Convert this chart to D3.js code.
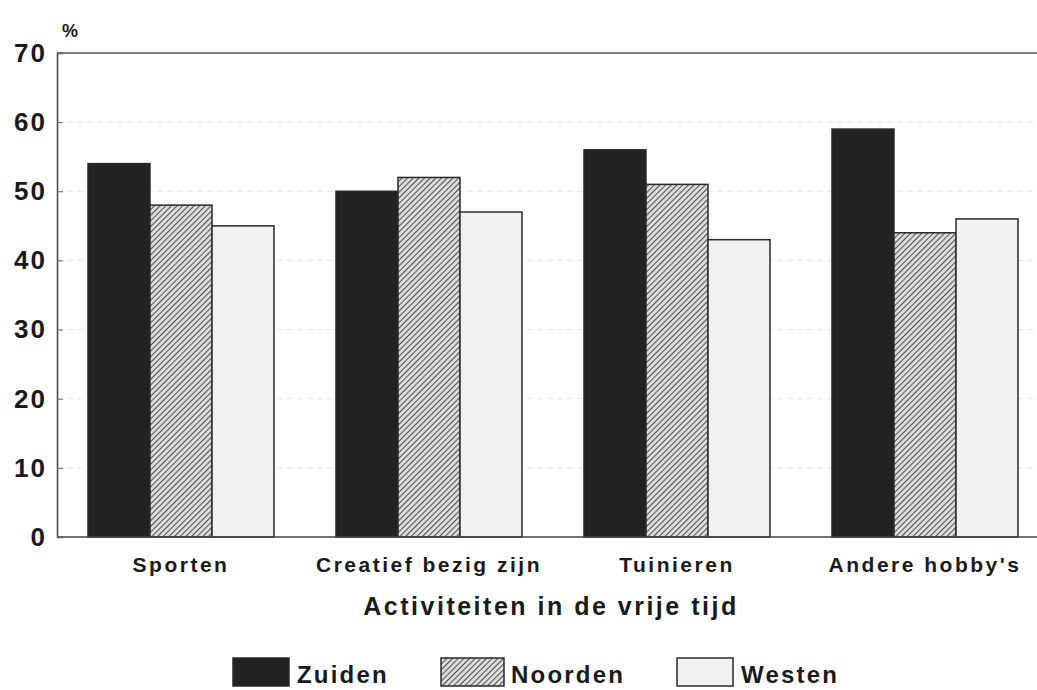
<!DOCTYPE html>
<html lang="nl">
<head>
<meta charset="utf-8">
<title>Activiteiten in de vrije tijd</title>
<script src="https://d3js.org/d3.v7.min.js"></script>
<style>
  body { margin: 0; background: #fff; }
  text { font-family: "Liberation Sans", Arial, sans-serif; font-weight: bold; fill: #1a1a1a; }
</style>
</head>
<body>
<script>
// data
var categories = ["Sporten", "Creatief bezig zijn", "Tuinieren", "Andere hobby's"];
var regions = ["Zuiden", "Noorden", "Westen"];
var zuiden  = [54, 50, 56, 59];
var noorden = [48, 52, 51, 44];
var westen  = [45, 47, 43, 46];
var yTicks = [0, 10, 20, 30, 40, 50, 60, 70];

var values = { "Zuiden": zuiden, "Noorden": noorden, "Westen": westen };

var width = 1037, height = 690;
var plotLeft = 57, plotTop = 53, plotBottom = 537, plotRight = 1049;

var svg = d3.select("body").append("svg")
    .attr("width", width)
    .attr("height", height);

var defs = svg.append("defs");
var hatch = defs.append("pattern")
    .attr("id", "hatch")
    .attr("patternUnits", "userSpaceOnUse")
    .attr("width", 4).attr("height", 4)
    .attr("patternTransform", "rotate(45)");
hatch.append("rect").attr("width", 4).attr("height", 4).attr("fill", "#dcdcdc");
hatch.append("line")
    .attr("x1", 0).attr("y1", 0).attr("x2", 0).attr("y2", 4)
    .attr("stroke", "#333").attr("stroke-width", 1.7);

var fills = { "Zuiden": "#232323", "Noorden": "url(#hatch)", "Westen": "#f1f1f1" };

var x = d3.scaleBand()
    .domain(categories)
    .range([plotLeft, plotRight])
    .paddingInner(0.25)
    .paddingOuter(0.125);

var x1 = d3.scaleBand()
    .domain(regions)
    .range([0, x.bandwidth()]);

var y = d3.scaleLinear()
    .domain([0, 70])
    .range([plotBottom, plotTop]);

// faint gridlines
svg.append("g")
    .selectAll("line")
    .data(yTicks.filter(function(d) { return d > 0 && d < 70; }))
    .enter().append("line")
    .attr("x1", plotLeft).attr("x2", width)
    .attr("y1", function(d) { return y(d); })
    .attr("y2", function(d) { return y(d); })
    .attr("stroke", "#e6e6e6")
    .attr("stroke-dasharray", "6,4");

// bars
var group = svg.append("g")
    .selectAll("g")
    .data(categories)
    .enter().append("g")
    .attr("transform", function(d) { return "translate(" + x(d) + ",0)"; });

group.selectAll("rect")
    .data(function(c, i) {
        return regions.map(function(r) { return { region: r, value: values[r][i] }; });
    })
    .enter().append("rect")
    .attr("x", function(d) { return x1(d.region); })
    .attr("y", function(d) { return y(d.value); })
    .attr("width", x1.bandwidth())
    .attr("height", function(d) { return plotBottom - y(d.value); })
    .attr("fill", function(d) { return fills[d.region]; })
    .attr("stroke", "#2a2a2a")
    .attr("stroke-width", 1.5);

// frame: top and bottom lines
svg.append("line")
    .attr("x1", plotLeft).attr("x2", width).attr("y1", plotTop).attr("y2", plotTop)
    .attr("stroke", "#555").attr("stroke-width", 1.5);
svg.append("line")
    .attr("x1", plotLeft).attr("x2", width).attr("y1", plotBottom).attr("y2", plotBottom)
    .attr("stroke", "#444").attr("stroke-width", 1.5);

var yAxis = svg.append("g")
    .attr("transform", "translate(" + plotLeft + ",0)")
    .call(d3.axisLeft(y).tickValues(yTicks).tickSize(-6).tickPadding(14));
yAxis.select(".domain").attr("stroke", "#444").attr("stroke-width", 1.5);
yAxis.selectAll(".tick line").attr("stroke", "#666");
yAxis.selectAll(".tick text")
    .attr("font-size", 26)
    .attr("font-family", "Liberation Sans, Arial, sans-serif")
    .attr("font-weight", "bold")
    .attr("fill", "#1a1a1a")
    .attr("x", -10)
    .attr("letter-spacing", 2);

svg.append("text")
    .attr("x", 62).attr("y", 37)
    .attr("font-size", 18)
    .text("%");

// category labels
svg.append("g")
    .selectAll("text")
    .data(categories)
    .enter().append("text")
    .attr("x", function(d) { return x(d) + x.bandwidth() / 2; })
    .attr("y", 572)
    .attr("text-anchor", "middle")
    .attr("font-size", 21)
    .attr("letter-spacing", 2.5)
    .text(function(d) { return d; });

svg.append("text")
    .attr("x", 551).attr("y", 615)
    .attr("text-anchor", "middle")
    .attr("font-size", 25)
    .attr("letter-spacing", 2.5)
    .text("Activiteiten in de vrije tijd");

// legend
var legendX = [233, 441, 677];
var legend = svg.append("g")
    .selectAll("g")
    .data(regions)
    .enter().append("g")
    .attr("transform", function(d, i) { return "translate(" + legendX[i] + ",658)"; });

legend.append("rect")
    .attr("width", function(d, i) { return i === 1 ? 63 : 56; })
    .attr("height", 28)
    .attr("fill", function(d) { return fills[d]; })
    .attr("stroke", "#2a2a2a")
    .attr("stroke-width", 1.5);

legend.append("text")
    .attr("x", function(d, i) { return i === 1 ? 70 : 64; })
    .attr("y", 25)
    .attr("font-size", 24)
    .attr("letter-spacing", 2.2)
    .text(function(d) { return d; });
</script>
</body>
</html>
